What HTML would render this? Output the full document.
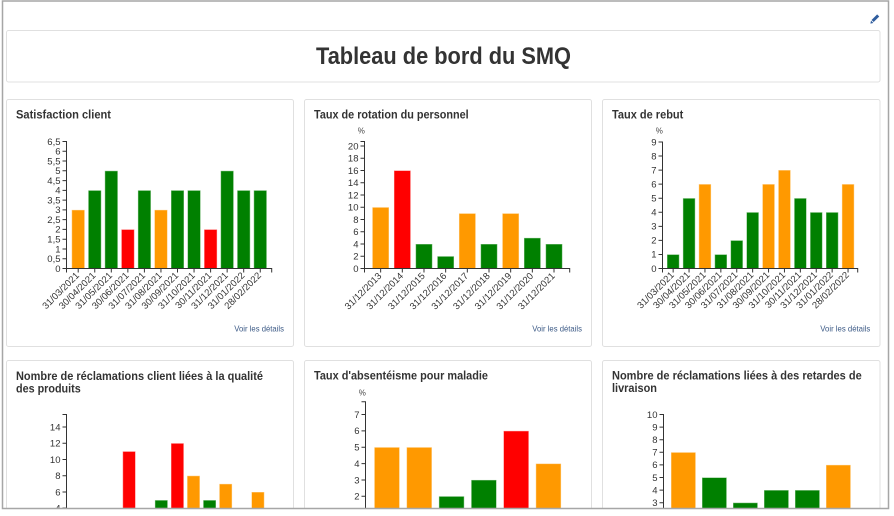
<!DOCTYPE html>
<html>
<head>
<meta charset="utf-8">
<style>
  html,body{margin:0;padding:0;background:#fff;}
  body{width:894px;height:516px;overflow:hidden;}
  svg{display:block;}
  text{font-family:"Liberation Sans",Arial,sans-serif;}
  .pt{font-size:12px;font-weight:bold;fill:#333;}
  .tk{font-size:9.5px;fill:#333;}
  .ax{fill:none;stroke:#333;stroke-width:1;}
  .vd{font-size:8.5px;fill:#3c5a86;}
  .pc{font-size:8px;fill:#444;}
  .O{fill:#ff9900;} .G{fill:#008000;} .R{fill:#ff0000;}
  .bars rect{stroke:rgba(255,255,255,0.5);stroke-width:1;}
</style>
</head>
<body>
<svg width="894" height="516" viewBox="0 0 894 516" xmlns="http://www.w3.org/2000/svg">
  <defs>
    <clipPath id="cl"><rect x="3" y="1.5" width="885" height="506.5"/></clipPath>
  </defs>
  <rect x="0" y="0" width="894" height="516" fill="#fff"/>
  <g clip-path="url(#cl)">
    <!-- pencil -->
    <line x1="872.6" y1="21" x2="878.2" y2="15.4" stroke="#2f5d9e" stroke-width="3" stroke-linecap="butt"/>
    <polygon points="870.4,23.6 871.0,20.6 873.4,23.0" fill="#2f5d9e"/>

    <!-- title card -->
    <rect x="6.5" y="30.5" width="873.5" height="51.5" rx="2" fill="#fff" stroke="#e0e0e0"/>
    <text x="443.5" y="64" text-anchor="middle" font-size="24" font-weight="bold" fill="#333" textLength="255" lengthAdjust="spacingAndGlyphs">Tableau de bord du SMQ</text>

    <!-- panels row 1 -->
    <rect x="6.5" y="99.5" width="287" height="247" rx="2" fill="#fff" stroke="#e0e0e0"/>
    <rect x="304.5" y="99.5" width="287" height="247" rx="2" fill="#fff" stroke="#e0e0e0"/>
    <rect x="602.5" y="99.5" width="277.5" height="247" rx="2" fill="#fff" stroke="#e0e0e0"/>
    <!-- panels row 2 -->
    <rect x="6.5" y="360.5" width="287" height="150" rx="2" fill="#fff" stroke="#e0e0e0"/>
    <rect x="304.5" y="360.5" width="287" height="150" rx="2" fill="#fff" stroke="#e0e0e0"/>
    <rect x="602.5" y="360.5" width="277.5" height="150" rx="2" fill="#fff" stroke="#e0e0e0"/>

    <!-- panel titles -->
    <text class="pt" x="16" y="118.5" textLength="95" lengthAdjust="spacingAndGlyphs">Satisfaction client</text>
    <text class="pt" x="314" y="118.5" textLength="154.7" lengthAdjust="spacingAndGlyphs">Taux de rotation du personnel</text>
    <text class="pt" x="612" y="118.5" textLength="71.3" lengthAdjust="spacingAndGlyphs">Taux de rebut</text>
    <text class="pt" x="16" y="380" textLength="247" lengthAdjust="spacingAndGlyphs">Nombre de réclamations client liées à la qualité</text>
    <text class="pt" x="16" y="392.5" textLength="64.7" lengthAdjust="spacingAndGlyphs">des produits</text>
    <text class="pt" x="314" y="379.5" textLength="174" lengthAdjust="spacingAndGlyphs">Taux d'absentéisme pour maladie</text>
    <text class="pt" x="612" y="379.5" textLength="249.7" lengthAdjust="spacingAndGlyphs">Nombre de réclamations liées à des retardes de</text>
    <text class="pt" x="612" y="392" textLength="45" lengthAdjust="spacingAndGlyphs">livraison</text>

    <!-- Voir les détails -->
    <text class="vd" x="234.3" y="331.5" textLength="49.7" lengthAdjust="spacingAndGlyphs">Voir les détails</text>
    <text class="vd" x="532.3" y="331.5" textLength="49.7" lengthAdjust="spacingAndGlyphs">Voir les détails</text>
    <text class="vd" x="820.3" y="331.5" textLength="50" lengthAdjust="spacingAndGlyphs">Voir les détails</text>

    <!-- ================= CHART 1 ================= -->
    <g class="bars">
      <rect class="O" x="71.7" y="209.88" width="13" height="58.62"/>
      <rect class="G" x="88.25" y="190.34" width="13" height="78.16"/>
      <rect class="G" x="104.8" y="170.8" width="13" height="97.7"/>
      <rect class="R" x="121.35" y="229.42" width="13" height="39.08"/>
      <rect class="G" x="137.9" y="190.34" width="13" height="78.16"/>
      <rect class="O" x="154.45" y="209.88" width="13" height="58.62"/>
      <rect class="G" x="171" y="190.34" width="13" height="78.16"/>
      <rect class="G" x="187.55" y="190.34" width="13" height="78.16"/>
      <rect class="R" x="204.1" y="229.42" width="13" height="39.08"/>
      <rect class="G" x="220.65" y="170.8" width="13" height="97.7"/>
      <rect class="G" x="237.2" y="190.34" width="13" height="78.16"/>
      <rect class="G" x="253.75" y="190.34" width="13" height="78.16"/>
    </g>
    <path class="ax" d="M62.5,141.5H66.5V268.5H62.5"/>
    <path class="ax" d="M62.5,258.73H66.5M62.5,248.96H66.5M62.5,239.19H66.5M62.5,229.42H66.5M62.5,219.65H66.5M62.5,209.88H66.5M62.5,200.11H66.5M62.5,190.34H66.5M62.5,180.57H66.5M62.5,170.8H66.5M62.5,161.03H66.5M62.5,151.26H66.5"/>
    <g class="tk" text-anchor="end">
      <text x="60.5" y="271.8">0</text>
      <text x="60.5" y="262">0,5</text>
      <text x="60.5" y="252.3">1</text>
      <text x="60.5" y="242.5">1,5</text>
      <text x="60.5" y="232.7">2</text>
      <text x="60.5" y="223">2,5</text>
      <text x="60.5" y="213.2">3</text>
      <text x="60.5" y="203.4">3,5</text>
      <text x="60.5" y="193.6">4</text>
      <text x="60.5" y="183.9">4,5</text>
      <text x="60.5" y="174.1">5</text>
      <text x="60.5" y="164.3">5,5</text>
      <text x="60.5" y="154.6">6</text>
      <text x="60.5" y="144.8">6,5</text>
    </g>
    <path class="ax" d="M66.5,272.5V268.5H271.7V272.5"/>
    <path class="ax" d="M78.2,268.5V272.5M94.75,268.5V272.5M111.3,268.5V272.5M127.85,268.5V272.5M144.4,268.5V272.5M160.95,268.5V272.5M177.5,268.5V272.5M194.05,268.5V272.5M210.6,268.5V272.5M227.15,268.5V272.5M243.7,268.5V272.5M260.25,268.5V272.5"/>
    <g class="tk" text-anchor="end">
      <text transform="translate(79.7,276) rotate(-45)">31/03/2021</text>
      <text transform="translate(96.25,276) rotate(-45)">30/04/2021</text>
      <text transform="translate(112.8,276) rotate(-45)">31/05/2021</text>
      <text transform="translate(129.35,276) rotate(-45)">30/06/2021</text>
      <text transform="translate(145.9,276) rotate(-45)">31/07/2021</text>
      <text transform="translate(162.45,276) rotate(-45)">31/08/2021</text>
      <text transform="translate(179,276) rotate(-45)">30/09/2021</text>
      <text transform="translate(195.55,276) rotate(-45)">31/10/2021</text>
      <text transform="translate(212.1,276) rotate(-45)">30/11/2021</text>
      <text transform="translate(228.65,276) rotate(-45)">31/12/2021</text>
      <text transform="translate(245.2,276) rotate(-45)">31/01/2022</text>
      <text transform="translate(261.75,276) rotate(-45)">28/02/2022</text>
    </g>

    <!-- ================= CHART 2 ================= -->
    <text class="pc" x="361.3" y="133.5" text-anchor="middle">%</text>
    <g class="bars">
      <rect class="O" x="372.3" y="207.25" width="16.7" height="61.25"/>
      <rect class="R" x="393.97" y="170.5" width="16.7" height="98"/>
      <rect class="G" x="415.64" y="244" width="16.7" height="24.5"/>
      <rect class="G" x="437.31" y="256.25" width="16.7" height="12.25"/>
      <rect class="O" x="458.98" y="213.38" width="16.7" height="55.12"/>
      <rect class="G" x="480.65" y="244" width="16.7" height="24.5"/>
      <rect class="O" x="502.32" y="213.38" width="16.7" height="55.12"/>
      <rect class="G" x="523.99" y="237.88" width="16.7" height="30.62"/>
      <rect class="G" x="545.66" y="244" width="16.7" height="24.5"/>
    </g>
    <path class="ax" d="M360.5,141.5H364.5V268.5H360.5"/>
    <path class="ax" d="M360.5,256.25H364.5M360.5,244H364.5M360.5,231.75H364.5M360.5,219.5H364.5M360.5,207.25H364.5M360.5,195H364.5M360.5,182.75H364.5M360.5,170.5H364.5M360.5,158.25H364.5M360.5,146H364.5"/>
    <g class="tk" text-anchor="end">
      <text x="358.5" y="271.8">0</text>
      <text x="358.5" y="259.6">2</text>
      <text x="358.5" y="247.3">4</text>
      <text x="358.5" y="235.1">6</text>
      <text x="358.5" y="222.8">8</text>
      <text x="358.5" y="210.6">10</text>
      <text x="358.5" y="198.3">12</text>
      <text x="358.5" y="186.1">14</text>
      <text x="358.5" y="173.8">16</text>
      <text x="358.5" y="161.6">18</text>
      <text x="358.5" y="149.3">20</text>
    </g>
    <path class="ax" d="M364.5,272.5V268.5H569.7V272.5"/>
    <path class="ax" d="M380.65,268.5V272.5M402.32,268.5V272.5M423.99,268.5V272.5M445.66,268.5V272.5M467.33,268.5V272.5M489,268.5V272.5M510.67,268.5V272.5M532.34,268.5V272.5M554.01,268.5V272.5"/>
    <g class="tk" text-anchor="end">
      <text transform="translate(382.15,276.5) rotate(-45)">31/12/2013</text>
      <text transform="translate(403.82,276.5) rotate(-45)">31/12/2014</text>
      <text transform="translate(425.49,276.5) rotate(-45)">31/12/2015</text>
      <text transform="translate(447.16,276.5) rotate(-45)">31/12/2016</text>
      <text transform="translate(468.83,276.5) rotate(-45)">31/12/2017</text>
      <text transform="translate(490.5,276.5) rotate(-45)">31/12/2018</text>
      <text transform="translate(512.17,276.5) rotate(-45)">31/12/2019</text>
      <text transform="translate(533.84,276.5) rotate(-45)">31/12/2020</text>
      <text transform="translate(555.51,276.5) rotate(-45)">31/12/2021</text>
    </g>

    <!-- ================= CHART 3 ================= -->
    <text class="pc" x="659.3" y="133.5" text-anchor="middle">%</text>
    <g class="bars">
      <rect class="G" x="667" y="254.44" width="12.3" height="14.06"/>
      <rect class="G" x="682.9" y="198.2" width="12.3" height="70.3"/>
      <rect class="O" x="698.8" y="184.14" width="12.3" height="84.36"/>
      <rect class="G" x="714.7" y="254.44" width="12.3" height="14.06"/>
      <rect class="G" x="730.6" y="240.38" width="12.3" height="28.12"/>
      <rect class="G" x="746.5" y="212.26" width="12.3" height="56.24"/>
      <rect class="O" x="762.4" y="184.14" width="12.3" height="84.36"/>
      <rect class="O" x="778.3" y="170.08" width="12.3" height="98.42"/>
      <rect class="G" x="794.2" y="198.2" width="12.3" height="70.3"/>
      <rect class="G" x="810.1" y="212.26" width="12.3" height="56.24"/>
      <rect class="G" x="826" y="212.26" width="12.3" height="56.24"/>
      <rect class="O" x="841.9" y="184.14" width="12.3" height="84.36"/>
    </g>
    <path class="ax" d="M658.5,141.96H662.5V268.5H658.5"/>
    <path class="ax" d="M658.5,254.44H662.5M658.5,240.38H662.5M658.5,226.32H662.5M658.5,212.26H662.5M658.5,198.2H662.5M658.5,184.14H662.5M658.5,170.08H662.5M658.5,156.02H662.5"/>
    <g class="tk" text-anchor="end">
      <text x="656.5" y="271.8">0</text>
      <text x="656.5" y="257.7">1</text>
      <text x="656.5" y="243.7">2</text>
      <text x="656.5" y="229.6">3</text>
      <text x="656.5" y="215.6">4</text>
      <text x="656.5" y="201.5">5</text>
      <text x="656.5" y="187.4">6</text>
      <text x="656.5" y="173.4">7</text>
      <text x="656.5" y="159.3">8</text>
      <text x="656.5" y="145.3">9</text>
    </g>
    <path class="ax" d="M662.5,272.5V268.5H857.7V272.5"/>
    <path class="ax" d="M673.15,268.5V272.5M689.05,268.5V272.5M704.95,268.5V272.5M720.85,268.5V272.5M736.75,268.5V272.5M752.65,268.5V272.5M768.55,268.5V272.5M784.45,268.5V272.5M800.35,268.5V272.5M816.25,268.5V272.5M832.15,268.5V272.5M848.05,268.5V272.5"/>
    <g class="tk" text-anchor="end">
      <text transform="translate(674.65,275.5) rotate(-45)">31/03/2021</text>
      <text transform="translate(690.55,275.5) rotate(-45)">30/04/2021</text>
      <text transform="translate(706.45,275.5) rotate(-45)">31/05/2021</text>
      <text transform="translate(722.35,275.5) rotate(-45)">30/06/2021</text>
      <text transform="translate(738.25,275.5) rotate(-45)">31/07/2021</text>
      <text transform="translate(754.15,275.5) rotate(-45)">31/08/2021</text>
      <text transform="translate(770.05,275.5) rotate(-45)">30/09/2021</text>
      <text transform="translate(785.95,275.5) rotate(-45)">31/10/2021</text>
      <text transform="translate(801.85,275.5) rotate(-45)">30/11/2021</text>
      <text transform="translate(817.75,275.5) rotate(-45)">31/12/2021</text>
      <text transform="translate(833.65,275.5) rotate(-45)">31/01/2022</text>
      <text transform="translate(849.55,275.5) rotate(-45)">28/02/2022</text>
    </g>

    <!-- ================= CHART 4 ================= -->
    <g class="bars">
      <rect class="R" x="122.7" y="451.38" width="12.8" height="57"/>
      <rect class="G" x="154.9" y="500.13" width="12.8" height="8.3"/>
      <rect class="R" x="171" y="443.25" width="12.8" height="65.2"/>
      <rect class="O" x="187.1" y="475.75" width="12.8" height="32.7"/>
      <rect class="G" x="203.2" y="500.13" width="12.8" height="8.3"/>
      <rect class="O" x="219.3" y="483.88" width="12.8" height="24.6"/>
      <rect class="O" x="251.5" y="492" width="12.8" height="16.5"/>
    </g>
    <path class="ax" d="M62.5,414.5H66.5V508.5"/>
    <path class="ax" d="M62.5,427H66.5M62.5,443.25H66.5M62.5,459.5H66.5M62.5,475.75H66.5M62.5,492H66.5M62.5,508H66.5"/>
    <g class="tk" text-anchor="end">
      <text x="60.5" y="430.3">14</text>
      <text x="60.5" y="446.6">12</text>
      <text x="60.5" y="462.8">10</text>
      <text x="60.5" y="479.1">8</text>
      <text x="60.5" y="495.3">6</text>
      <text x="60.5" y="511.6">4</text>
    </g>

    <!-- ================= CHART 5 ================= -->
    <text class="pc" x="362.3" y="395.5" text-anchor="middle">%</text>
    <g class="bars">
      <rect class="O" x="374.3" y="447.25" width="25.3" height="61.25"/>
      <rect class="O" x="406.6" y="447.25" width="25.3" height="61.25"/>
      <rect class="G" x="438.9" y="496.3" width="25.3" height="12.2"/>
      <rect class="G" x="471.2" y="479.95" width="25.3" height="28.55"/>
      <rect class="R" x="503.5" y="430.9" width="25.3" height="77.6"/>
      <rect class="O" x="535.8" y="463.6" width="25.3" height="44.9"/>
    </g>
    <path class="ax" d="M361.5,401.7H365.5V508.5"/>
    <path class="ax" d="M361.5,414.55H365.5M361.5,430.9H365.5M361.5,447.25H365.5M361.5,463.6H365.5M361.5,479.95H365.5M361.5,496.3H365.5"/>
    <g class="tk" text-anchor="end">
      <text x="359.5" y="417.9">7</text>
      <text x="359.5" y="434.2">6</text>
      <text x="359.5" y="450.6">5</text>
      <text x="359.5" y="466.9">4</text>
      <text x="359.5" y="483.3">3</text>
      <text x="359.5" y="499.6">2</text>
    </g>

    <!-- ================= CHART 6 ================= -->
    <g class="bars">
      <rect class="O" x="671" y="452.3" width="24.7" height="56.2"/>
      <rect class="G" x="702" y="477.5" width="24.7" height="31"/>
      <rect class="G" x="733" y="502.7" width="24.7" height="5.8"/>
      <rect class="G" x="764" y="490.1" width="24.7" height="18.4"/>
      <rect class="G" x="795" y="490.1" width="24.7" height="18.4"/>
      <rect class="O" x="826" y="464.9" width="24.7" height="43.6"/>
    </g>
    <path class="ax" d="M659.5,414.5H663.5V508.5"/>
    <path class="ax" d="M659.5,427.1H663.5M659.5,439.7H663.5M659.5,452.3H663.5M659.5,464.9H663.5M659.5,477.5H663.5M659.5,490.1H663.5M659.5,502.7H663.5"/>
    <g class="tk" text-anchor="end">
      <text x="657.5" y="417.8">10</text>
      <text x="657.5" y="430.4">9</text>
      <text x="657.5" y="443">8</text>
      <text x="657.5" y="455.6">7</text>
      <text x="657.5" y="468.2">6</text>
      <text x="657.5" y="480.8">5</text>
      <text x="657.5" y="493.4">4</text>
      <text x="657.5" y="506">3</text>
    </g>
  </g>

  <!-- outer frame -->
  <rect x="2.5" y="1" width="886" height="507.5" fill="none" stroke="#a6a6a6" stroke-width="1.5"/>
</svg>
</body>
</html>
